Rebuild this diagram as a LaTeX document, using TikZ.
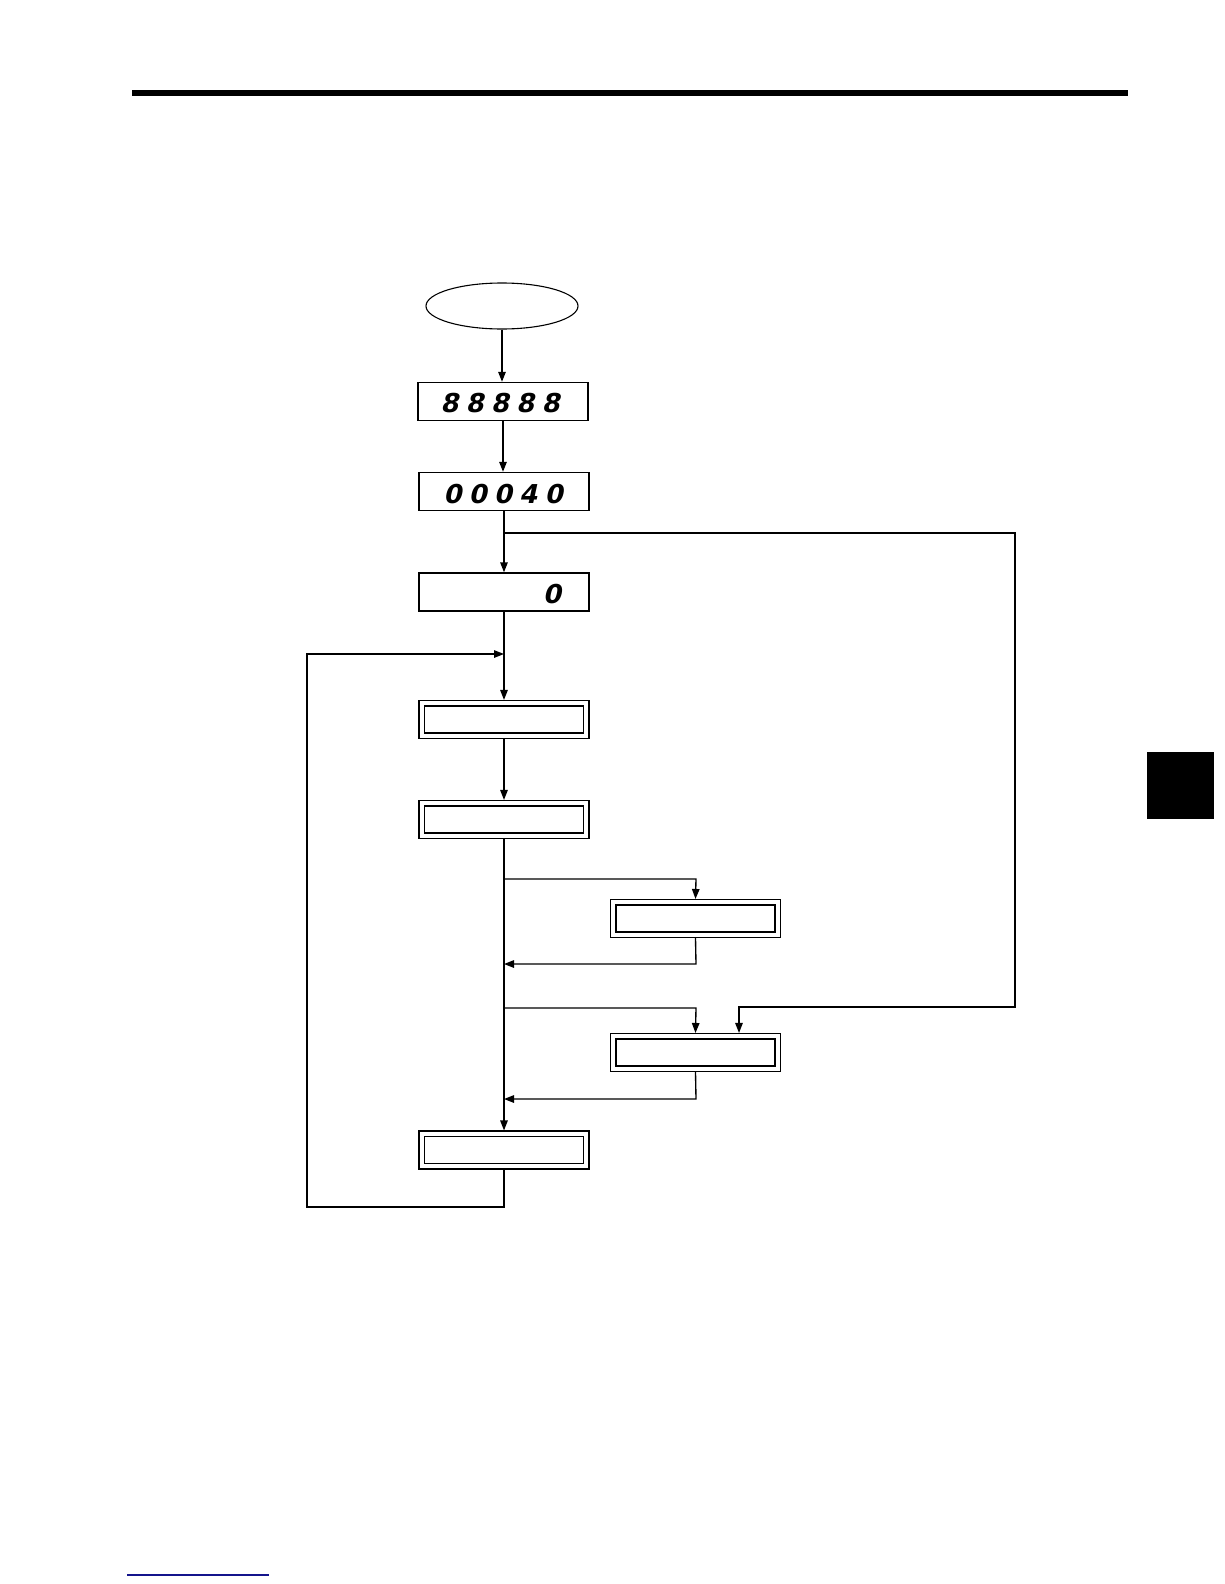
\documentclass[tikz,border=0pt]{standalone}
\usepackage{fontspec}
\newfontfamily\segfont[FakeSlant=0.22]{DejaVu Sans}
\usetikzlibrary{arrows.meta,shapes.geometric}
\definecolor{linkblue}{RGB}{20,20,140}
\newcommand\dgap{\kern7.2pt}
\begin{document}
\begin{tikzpicture}[x=1pt,y=-1pt,line width=1.35pt,
  arr/.style={-{Triangle[length=10pt,width=7.5pt]}},
  dispbox/.style={draw,minimum width=170pt,minimum height=38pt,inner sep=0pt},
  dblbox/.style={draw,double=white,double distance=4pt,minimum width=164.5pt,minimum height=32.5pt,inner sep=0pt,outer sep=3.3pt},
  segtext/.style={inner sep=0pt,font=\segfont\bfseries\fontsize{26}{26}\selectfont},
  startell/.style={draw,ellipse,line width=1.1pt,minimum width=152pt,minimum height=46pt,inner sep=0pt}]
\useasboundingbox (0,0) rectangle (1224,1584);
% page decorations
\fill (132,90) rectangle (1128,96);
\node[fill,minimum size=67pt,inner sep=0pt] (tab) at (1180.5,785.5) {};
\draw[linkblue,line width=1.5pt] (127,1575) -- (269,1575);
% nodes
\node[startell] (start) at (502,306) {};
\node[dispbox] (b1) at (503,401.5) {};
\node[segtext] (t1) at (500,403) {8\dgap8\dgap8\dgap8\dgap8};
\node[dispbox] (b2) at (504,491.5) {};
\node[segtext] (t2) at (503,494) {0\dgap0\dgap0\dgap4\dgap0};
\node[dispbox] (b3) at (504,592) {};
\node[segtext] (t3) at (552,594) {0};
\node[dblbox] (b4) at (504,719.5) {};
\node[dblbox] (b5) at (504,819.5) {};
\node[dblbox] (b6) at (695.5,918.5) {};
\node[dblbox] (b7) at (695.5,1052.5) {};
\node[dblbox] (b8) at (504,1150) {};
% junction coordinates
\coordinate (j1) at (504,533);
\coordinate (j0) at (504,654);
\coordinate (j2) at (504,879);
\coordinate (r1) at (504,964);
\coordinate (j3) at (504,1008);
\coordinate (r2) at (504,1099);
% main flow
\draw[arr] (start.south) -- (start.south |- b1.north);
\draw[arr] (b1.south) -- (b1.south |- b2.north);
\draw[arr] (b2.south) -- (b3.north);
\draw[arr] (b3.south) -- (b4.north);
\draw[arr] (b4.south) -- (b5.north);
\draw[arr] (b5.south) -- (b8.north);
% right loop
\draw[arr] (j1) -- (1015,533) -- (1015,1007) -- (739,1007) -- (739,1007 |- b7.north);
% left loop
\draw[arr] (b8.south) -- (504,1207) -- (307,1207) -- (307,654) -- (j0);
% branch 1
\draw[arr] (j2) -- (696,879) -- (b6.north);
\draw[arr] (b6.south) -- (696,964) -- (r1);
% branch 2
\draw[arr] (j3) -- (696,1008) -- (b7.north);
\draw[arr] (b7.south) -- (696,1099) -- (r2);
\end{tikzpicture}
\end{document}
